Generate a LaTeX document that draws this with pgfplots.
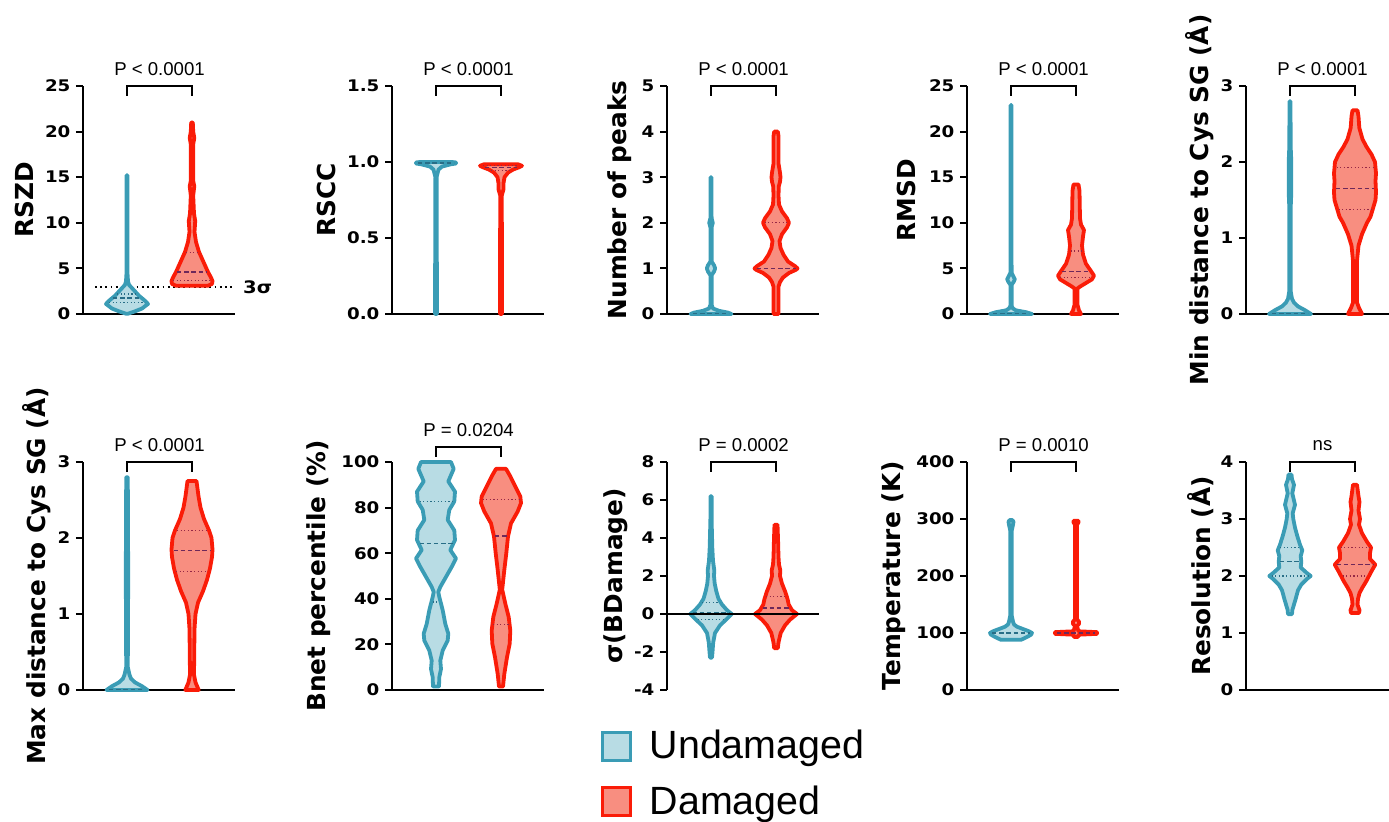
\documentclass[border=0pt]{standalone}
\usepackage{fontspec}
\setmainfont{Liberation Sans}
\newfontfamily\djv{DejaVu Sans}
\newfontfamily\djvw{DejaVu Sans}[FakeStretch=1.14]
\usepackage{pgfplots}
\usepackage{pgfplotstable}
\pgfplotsset{compat=1.18}

\definecolor{tealL}{RGB}{58,156,181}
\definecolor{tealF}{RGB}{184,220,228}
\definecolor{tealD}{RGB}{40,110,135}
\definecolor{redL}{RGB}{250,28,8}
\definecolor{redF}{RGB}{248,142,128}
\definecolor{redM}{RGB}{110,40,90}
\definecolor{redQ}{RGB}{150,40,70}

\newcommand\tickf{\fontsize{8}{9}\selectfont\djvw\bfseries}
\newcommand\labf{\fontsize{12.4}{14}\selectfont\djv\bfseries}
\newcommand\pf{\fontsize{9.3}{10}\selectfont}
\newcommand\legf{\fontsize{19.7}{22}\selectfont}

% mirror a profile (v, half width w) into a closed outline, column s
\newcommand\mkvio[1]{%
  \pgfplotstablesort[sort key=v, sort cmp=float >]{\tmpB}{#1}%
  \pgfplotstablecreatecol[create col/expr={\thisrow{w}}]{s}{#1}%
  \pgfplotstablecreatecol[create col/expr={-\thisrow{w}}]{s}{\tmpB}%
  \pgfplotstablevertcat{#1}{\tmpB}%
}

% half widths w are in pixels of the original, 65 px per category
\pgfplotstableread{
v w
0.02 0.8
0.25 7
0.6 15
1.1 21
1.45 18
2.0 12
2.6 7
3.2 2
3.6 1
4.5 0.5
15.2 0.5
}\pAu
\pgfplotstableread{
v w
3.1 16
3.3 20
3.6 20.5
4.0 19
4.6 16
5.7 11.5
6.8 7
7.9 4
9 2.5
9.8 3
10.2 3.2
11 2
13 1.2
14 2.3
14.6 1.2
18.6 1.2
19.3 2.3
20 1.2
21 0.8
}\pAd
\pgfplotstableread{
v w
0 1
0.9 0.6
0.95 2.5
0.97 6
0.985 15
0.99 20
0.997 20
1.0 16
}\pBu
\pgfplotstableread{
v w
0 1
0.78 0.8
0.82 2.5
0.86 2.5
0.9 3.5
0.93 7
0.95 12
0.965 18
0.975 21
0.985 17
}\pBd
\pgfplotstableread{
v w
0 20.5
0.03 17
0.07 8
0.12 2
0.2 0.6
0.85 0.6
0.93 3
1.0 4.2
1.07 3
1.15 0.6
1.9 0.6
2.0 1.8
2.1 0.6
3.0 0.5
}\pCu
\pgfplotstableread{
v w
0 2.5
0.6 2.5
0.7 4
0.8 7
0.9 13
0.97 20
1.0 21.5
1.05 19
1.15 12
1.3 7.5
1.45 4.5
1.6 3.5
1.75 6
1.9 11
2.0 13
2.1 11
2.25 6
2.4 3
2.6 2.5
2.8 2.8
2.9 4
3.0 4.5
3.1 4
3.3 2.5
3.9 2.5
4.0 1.8
}\pCd
\pgfplotstableread{
v w
0 21
0.2 15
0.4 5
0.6 2
0.9 0.6
3.2 0.6
3.5 2.5
3.8 3.8
4.1 2.5
4.5 0.6
22.9 0.5
}\pDu
\pgfplotstableread{
v w
0 5
0.4 3
1 1.5
2.8 1.5
3.0 4
3.4 10
3.8 16
4.2 18
4.7 15
5.5 10
6.5 7
7.5 6
8.5 7
9.2 8
9.8 5
10.5 4
13.5 3.5
14.2 2.5
}\pDd
\pgfplotstableread{
v w
0 21
0.05 15
0.1 8
0.15 4
0.2 2
0.3 0.7
1.4 0.7
1.6 1.3
2.0 1.3
2.2 0.7
2.8 0.5
}\pEu
\pgfplotstableread{
v w
0 7
0.08 4
0.15 2
0.7 2
0.9 3.5
1.05 7
1.2 12
1.28 15.5
1.39 18
1.5 20.5
1.6 21
1.75 20.5
1.85 21
2.0 20
2.1 16.5
2.2 11.5
2.3 7.5
2.45 4.3
2.6 3.5
2.68 2.5
}\pEd
\pgfplotstableread{
v w
0 20.5
0.05 15
0.1 8
0.15 4
0.2 2.5
0.3 0.8
1.5 1.2
2.8 0.8
}\pFu
\pgfplotstableread{
v w
0 6.7
0.1 3.5
0.2 2
0.8 2.5
1.0 3.5
1.15 6
1.3 11
1.45 15
1.6 18
1.75 20
1.85 20.5
2.0 19.5
2.1 17
2.25 12
2.4 8.5
2.55 6.5
2.65 5.5
2.75 4.5
}\pFd
\pgfplotstableread{
v w
1.5 3
5.6 3.3
9.2 5
12.9 4.3
17.3 6.7
21.7 11.7
24.7 12.3
29 9.3
35 6.7
40.8 3.3
43 2.3
45.2 4.3
49.6 10
54 15.7
57.7 20
61.4 14.3
65.8 19
70 18.3
74.6 11.7
79 13.3
82.7 18.3
87 19
91.5 12.3
97 17.7
100 15
}\pGu
\pgfplotstableread{
v w
1.5 2
7 3.3
14.4 6
20.3 8.7
26.1 9.3
32 7.7
37.9 4.3
44 1.2
52.6 3.3
60 5.3
67.3 7
73.1 10
78.3 16.7
82 20
84.9 19.3
89.3 14.3
93.7 9.3
97 5
}\pGd
\pgfplotstableread{
v w
-2.3 1
-2.0 1.5
-1.5 2.2
-1.0 4
-0.6 9
-0.3 15
0 20.7
0.2 16
0.5 11
0.8 7.5
1.2 5.3
1.6 3.7
2.0 3
2.3 3.3
2.8 2
3.5 1.3
5 0.6
6.2 0.6
}\pHu
\pgfplotstableread{
v w
-1.8 1.8
-1.5 2.5
-1.0 4.7
-0.6 9
-0.3 14
0 21
0.2 16
0.5 12.7
0.8 11.5
1.2 9
1.6 6
2.0 4
2.3 4.3
2.6 3
3.0 2.5
4.0 2
4.7 1.5
}\pHd
\pgfplotstableread{
v w
88 10
93 16
97 20
100 21
103 18
107 12
111 6
115 3
120 2
130 0.8
280 0.8
290 2
295 2.5
298 1.5
}\pIu
\pgfplotstableread{
v w
93 2
97 2.5
98.5 21
101.5 21
103 2.5
112 1
116 3
120 3
124 1
290 1
294 2.5
297 2.5
}\pId
\pgfplotstableread{
v w
1.33 2
1.4 2.3
1.5 4
1.6 5.7
1.75 8
1.85 11.3
1.95 17
2.0 20.7
2.05 17
2.15 10.7
2.25 11.3
2.35 10.7
2.45 12.3
2.55 10
2.7 7.3
2.85 5
3.0 3.3
3.1 2.7
3.25 5
3.45 2.3
3.6 4
3.7 2
3.78 1.5
}\pJu
\pgfplotstableread{
v w
1.35 4
1.4 4.5
1.45 3.5
1.5 2.5
1.6 3
1.7 4.5
1.8 7.5
1.9 11
2.0 14
2.1 17
2.2 20.3
2.3 15
2.4 15
2.5 16
2.6 12
2.75 7
2.9 4
3.0 5
3.15 3.5
3.3 4.5
3.4 3.5
3.6 2
}\pJd

\mkvio\pAu \mkvio\pAd \mkvio\pBu \mkvio\pBd \mkvio\pCu
\mkvio\pCd \mkvio\pDu \mkvio\pDd \mkvio\pEu \mkvio\pEd
\mkvio\pFu \mkvio\pFd \mkvio\pGu \mkvio\pGd \mkvio\pHu
\mkvio\pHd \mkvio\pIu \mkvio\pId \mkvio\pJu \mkvio\pJd

\pgfplotsset{
  vio/.style={
    scale only axis, width=76pt, height=114pt,
    xmin=0.3231, xmax=2.6615,
    axis y line=left, axis x line=bottom,
    axis line style={-, line width=1pt, black},
    xtick=\empty,
    tick align=outside, major tick length=3.5pt,
    every tick/.append style={black, line width=1pt},
    yticklabel style={font=\tickf, inner sep=2.6pt},
    ylabel style={font=\labf, anchor=center},
    clip=false,
  },
  U/.style={draw=tealL, fill=tealF, line width=1.9pt, line join=round},
  D/.style={draw=redL, fill=redF, line width=1.9pt, line join=round},
  um/.style={tealD, line width=0.6pt, dash pattern=on 2.2pt off 1.4pt},
  uq/.style={tealD, line width=0.6pt, dash pattern=on 0.6pt off 1.2pt},
  dm/.style={redM, line width=0.6pt, dash pattern=on 2.2pt off 1.4pt},
  dq/.style={redQ, line width=0.6pt, dash pattern=on 0.6pt off 1.2pt},
}

% #1 centre, #2 table, #3 style
\newcommand\violin[3]{%
  \addplot[#3, forget plot] table[x expr=#1+\thisrow{s}/65, y=v] {#2} -- cycle;
}
% median / quartile line: #1 style, #2 centre, #3 half width, #4 value
\newcommand\hl[4]{%
  \addplot[#1, forget plot] table[x expr=#2+\thisrow{w}/65, y=v, row sep=\\] {w v\\ -#3 #4\\ #3 #4\\};
}
% bracket with p value: #1 level, #2 text
\newcommand\pbr[2]{%
  \draw[line width=1pt] ([yshift=-5pt]axis cs:1,#1) -- (axis cs:1,#1) -- (axis cs:2,#1) -- ([yshift=-5pt]axis cs:2,#1);
  \node[font=\pf, anchor=center] at ([yshift=8.4pt]axis cs:1.5,#1) {#2};
}

\begin{document}
\begin{tikzpicture}
\useasboundingbox (0,0) rectangle (694.5pt,-411pt);

% ---------- top row ----------
\begin{axis}[vio, at={(41.5pt,-157pt)}, anchor=south west,
  ymin=0, ymax=25, ytick={0,5,10,15,20,25}, yticklabels={0,5,10,15,20,25},
  ylabel={RSZD}, ylabel style={at={(axis description cs:-0.388,0.5)}}]
\addplot[black, line width=1pt, dash pattern=on 0.9pt off 1.7pt, forget plot] coordinates {(0.508,3) (2.63,3)};
\violin{1}{\pAu}{U}
\violin{2}{\pAd}{D}
\hl{uq}{1}{18}{1.28}
\hl{um}{1}{14}{1.75}
\hl{uq}{1}{10}{2.2}
\hl{dq}{2}{19}{3.7}
\hl{dm}{2}{15}{4.6}
\hl{dq}{2}{6}{6.7}
\node[font=\tickf\fontsize{8.6}{9}\selectfont, anchor=west, inner sep=0pt] at (axis cs:2.78,2.96) {3σ};
\pbr{25}{P < 0.0001}
\end{axis}

\begin{axis}[vio, at={(196pt,-157pt)}, anchor=south west,
  ymin=0, ymax=1.5, ytick={0,0.5,1,1.5}, yticklabels={0.0,0.5,1.0,1.5},
  ylabel={RSCC}, ylabel style={at={(axis description cs:-0.434,0.5)}}]
\violin{1}{\pBu}{U}
\violin{2}{\pBd}{D}
\hl{um}{1}{18}{0.994}
\hl{dq}{2}{10}{0.945}
\hl{dm}{2}{16}{0.965}
\hl{dq}{2}{18}{0.978}
\pbr{1.5}{P < 0.0001}
\end{axis}

\begin{axis}[vio, at={(333.5pt,-157pt)}, anchor=south west,
  ymin=0, ymax=5, ytick={0,1,2,3,4,5}, yticklabels={0,1,2,3,4,5},
  ylabel={Number of peaks}, ylabel style={at={(axis description cs:-0.309,0.5)}}]
\violin{1}{\pCu}{U}
\violin{2}{\pCd}{D}
\hl{um}{1}{18}{0.015}
\hl{dm}{2}{19.5}{1.0}
\hl{dq}{2}{11.5}{2.0}
\pbr{5}{P < 0.0001}
\end{axis}

\begin{axis}[vio, at={(483.5pt,-157pt)}, anchor=south west,
  ymin=0, ymax=25, ytick={0,5,10,15,20,25}, yticklabels={0,5,10,15,20,25},
  ylabel={RMSD}, ylabel style={at={(axis description cs:-0.401,0.5)}}]
\violin{1}{\pDu}{U}
\violin{2}{\pDd}{D}
\hl{um}{1}{18}{0.05}
\hl{dq}{2}{16}{4.0}
\hl{dm}{2}{14}{4.7}
\hl{dq}{2}{5.5}{6.9}
\pbr{25}{P < 0.0001}
\end{axis}

\begin{axis}[vio, at={(623pt,-157pt)}, anchor=south west,
  ymin=0, ymax=3, ytick={0,1,2,3}, yticklabels={0,1,2,3},
  ylabel={Min distance to Cys SG (Å)}, ylabel style={at={(axis description cs:-0.303,0.5)}}]
\violin{1}{\pEu}{U}
\violin{2}{\pEd}{D}
\hl{um}{1}{18}{0.01}
\hl{dq}{2}{16.5}{1.37}
\hl{dm}{2}{19}{1.65}
\hl{dq}{2}{18.5}{1.93}
\pbr{3}{P < 0.0001}
\end{axis}

% ---------- bottom row ----------
\begin{axis}[vio, at={(41.5pt,-345pt)}, anchor=south west,
  ymin=0, ymax=3, ytick={0,1,2,3}, yticklabels={0,1,2,3},
  ylabel={Max distance to Cys SG (Å)}, ylabel style={at={(axis description cs:-0.307,0.5)}}]
\violin{1}{\pFu}{U}
\violin{2}{\pFd}{D}
\hl{um}{1}{18}{0.01}
\hl{dq}{2}{16}{1.56}
\hl{dm}{2}{18.5}{1.84}
\hl{dq}{2}{15}{2.10}
\pbr{3}{P < 0.0001}
\end{axis}

\begin{axis}[vio, at={(196pt,-345pt)}, anchor=south west,
  ymin=0, ymax=100, ytick={0,20,40,60,80,100}, yticklabels={0,20,40,60,80,100},
  ylabel={Bnet percentile (\%)}, ylabel style={at={(axis description cs:-0.480,0.5)}}]
\violin{1}{\pGu}{U}
\violin{2}{\pGd}{D}
\hl{uq}{1}{3.5}{38.6}
\hl{um}{1}{16.5}{64.2}
\hl{uq}{1}{16.5}{82.5}
\hl{dq}{2}{8}{28.8}
\hl{dm}{2}{6}{67.5}
\hl{dq}{2}{18.5}{83.5}
\pbr{106.7}{P = 0.0204}
\end{axis}

\begin{axis}[vio, at={(333.5pt,-345pt)}, anchor=south west, axis x line=none,
  ymin=-4, ymax=8, ytick={-4,-2,0,2,4,6,8}, yticklabels={-4,-2,0,2,4,6,8},
  ylabel={σ(BDamage)}, ylabel style={at={(axis description cs:-0.336,0.5)}},
  legend style={at={(rel axis cs:-0.44,-0.158)}, anchor=north west, draw=none, fill=none,
    font=\legf, inner sep=0pt, row sep=8pt, nodes={inner sep=2pt},
    /tikz/every odd column/.append style={column sep=7pt}},
  legend cell align=left,
  legend image code/.code={\draw[#1] (0pt,-7pt) rectangle (14pt,7pt);}]
\addlegendimage{draw=tealL, fill=tealF, line width=1.6pt}
\addlegendentry{Undamaged}
\addlegendimage{draw=redL, fill=redF, line width=1.6pt}
\addlegendentry{Damaged}
\violin{1}{\pHu}{U}
\violin{2}{\pHd}{D}
\hl{uq}{1}{13.5}{-0.28}
\hl{um}{1}{18.5}{0.05}
\hl{uq}{1}{9}{0.6}
\hl{dm}{2}{13.5}{0.32}
\hl{dq}{2}{10}{0.91}
\addplot[black, line width=1pt, forget plot] coordinates {(0.3231,0) (2.6615,0)};
\pbr{8}{P = 0.0002}
\end{axis}

\begin{axis}[vio, at={(483.5pt,-345pt)}, anchor=south west,
  ymin=0, ymax=400, ytick={0,100,200,300,400}, yticklabels={0,100,200,300,400},
  ylabel={Temperature (K)}, ylabel style={at={(axis description cs:-0.484,0.5)}}]
\violin{1}{\pIu}{U}
\violin{2}{\pId}{D}
\hl{um}{1}{19}{100}
\hl{dm}{2}{19}{100}
\pbr{400}{P = 0.0010}
\end{axis}

\begin{axis}[vio, at={(623pt,-345pt)}, anchor=south west,
  ymin=0, ymax=4, ytick={0,1,2,3,4}, yticklabels={0,1,2,3,4},
  ylabel={Resolution (Å)}, ylabel style={at={(axis description cs:-0.296,0.5)}}]
\violin{1}{\pJu}{U}
\violin{2}{\pJd}{D}
\hl{uq}{1}{18.5}{2.0}
\hl{um}{1}{10}{2.25}
\hl{uq}{1}{10}{2.5}
\hl{dq}{2}{12.5}{2.0}
\hl{dm}{2}{18.5}{2.2}
\hl{dq}{2}{14.5}{2.5}
\pbr{4}{ns}
\end{axis}
\end{tikzpicture}
\end{document}
